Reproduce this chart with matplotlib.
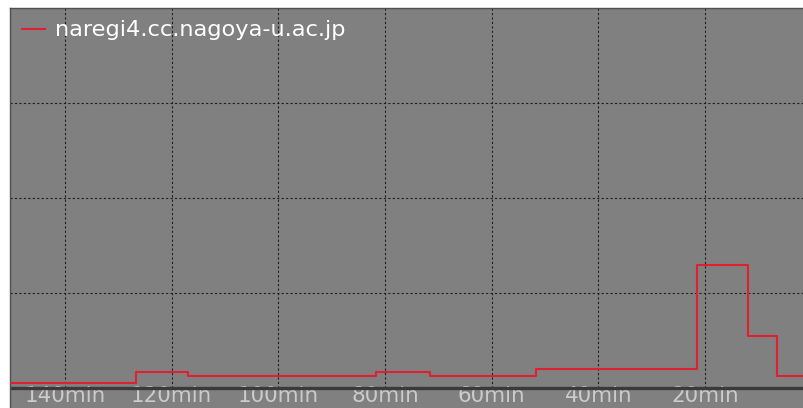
import matplotlib.pyplot as plt

# minutes ago (oldest -> newest) where each step begins, plus the right edge
edges = [150.3, 126.6, 117, 81.6, 71.6, 51.6, 21.6, 12, 6.6, 1.45]
values = [0.05, 0.17, 0.125, 0.17, 0.125, 0.2, 1.3, 0.55, 0.125]
tick_mins = [140, 120, 100, 80, 60, 40, 20]
tick_labels = [f"{m}min" for m in tick_mins]
host = "naregi4.cc.nagoya-u.ac.jp"

bg = "#808080"

fig = plt.figure(figsize=(8.04, 4.08), dpi=100)
ax = fig.add_axes([10 / 804, 0, 794 / 804, 400 / 408])
ax.set_facecolor(bg)

ymax = 4.0
ymin = -20 / 95
ax.set_xlim(edges[0], edges[-1])
ax.set_ylim(ymin, ymax)

# dashed grid, stopping at the baseline
ax.vlines(tick_mins, 0, ymax, colors="#202020", linestyles=(0, (2, 2)), linewidth=0.8)
ax.hlines([1, 2, 3], edges[0], edges[-1], colors="#202020", linestyles=(0, (2, 2)), linewidth=0.8)
ax.axhline(0, color="#3a3a3a", linewidth=2.4)

xs = edges
ys = values + [values[-1]]
ax.step(xs, ys, where="post", color="#e0202e", linewidth=1.5, label=host, zorder=3)

ax.set_xticks(tick_mins, tick_labels)
ax.set_yticks([])
ax.tick_params(axis="x", length=0, pad=-15.5, labelcolor="#cccccc", labelsize=15.4)

for side in ["right", "bottom"]:
    ax.spines[side].set_visible(False)
for side in ["top", "left"]:
    ax.spines[side].set_color("#505050")
    ax.spines[side].set_linewidth(1.0)

leg = ax.legend(loc="upper left", frameon=False, fontsize=16.2, labelcolor="white",
                handlelength=1.0, handletextpad=0.45, borderaxespad=0.25, borderpad=0.3)

fig.savefig("out.png", dpi=100, facecolor="white")
